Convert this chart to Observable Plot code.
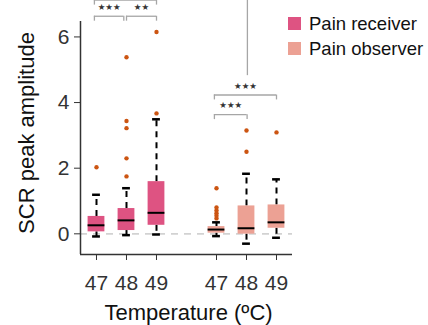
<!DOCTYPE html>
<html>
<head>
<meta charset="utf-8">
<script src="https://cdn.jsdelivr.net/npm/d3@7"></script>
<script src="https://cdn.jsdelivr.net/npm/@observablehq/plot@0.6"></script>
<style>
  html, body { margin: 0; padding: 0; background: white; }
  #wrap { position: relative; width: 428px; height: 325px; overflow: hidden; }
  #legend { position: absolute; left: 288px; top: 11px; font-family: 'Liberation Sans', Arial, sans-serif; font-size: 18.5px; color: #111; }
  .item { display: flex; align-items: center; height: 25px; }
  .sw { width: 13px; height: 13px; margin-right: 8px; }
</style>
</head>
<body>
<div id="wrap"><div id="legend"></div></div>
<script>
// ---- data ----
const groups = ["Pain receiver", "Pain observer"];
const groupColors = ["#de5382", "#eca194"];
const positions = [1, 2, 3, 5, 6, 7];
const tempLabels = ["47", "48", "49", "47", "48", "49"];
const boxGroup = ["Pain receiver", "Pain receiver", "Pain receiver", "Pain observer", "Pain observer", "Pain observer"];
const whiskerLow  = [-0.08, -0.04, -0.02, -0.07, -0.30, -0.12];
const q1          = [ 0.06,  0.10,  0.26,  0.02, -0.01,  0.17];
const median      = [ 0.26,  0.41,  0.64,  0.13,  0.17,  0.35];
const q3          = [ 0.53,  0.77,  1.59,  0.22,  0.85,  0.88];
const whiskerHigh = [ 1.19,  1.39,  3.49,  0.35,  1.83,  1.66];
const outlierValues = [
  [2.03],
  [1.75, 2.30, 3.22, 3.44, 5.38],
  [3.67, 6.15],
  [0.47, 0.55, 0.63, 0.71, 0.80, 1.39],
  [2.50, 3.15],
  [3.09]
];
const bracketX1 = [0.93, 2.0, 0.93, 4.93, 4.93];
const bracketX2 = [1.91, 3.0, 3.0, 7.0, 6.02];
const bracketY  = [6.63, 6.63, 7.12, 4.23, 3.63];
const bracketLabels = ["***", "**", "", "***", "***"];
const longLineX = [6.03];
const longLineY = [[4.82, 7.3]];
const yTicks = [0, 2, 4, 6];
const xDomain = [0.4667, 7.5333];
const yDomain = [-0.63, 6.47];

// ---- build tables ----
const boxes = positions.map((p, i) => ({
  pos: p, group: boxGroup[i], lo: whiskerLow[i], q1: q1[i], med: median[i], q3: q3[i], hi: whiskerHigh[i]
}));
const outliers = outlierValues.flatMap((vals, i) => vals.map(v => ({pos: positions[i], value: v})));
const brackets = bracketX1.map((x1, i) => ({x1, x2: bracketX2[i], y: bracketY[i], label: bracketLabels[i]}));
const legs = brackets.flatMap(b => [{x: b.x1, y1: b.y - 0.15, y2: b.y}, {x: b.x2, y1: b.y - 0.15, y2: b.y}]);
const longLines = longLineX.map((x, i) => ({x, y1: longLineY[i][0], y2: longLineY[i][1]}));

const hw = 0.28, cw = 0.13;
const font = "'Liberation Sans', Arial, sans-serif";

const chart = Plot.plot({
  width: 428, height: 325,
  marginLeft: 80, marginRight: 136, marginTop: 21, marginBottom: 71,
  x: {domain: xDomain},
  y: {domain: yDomain},
  color: {domain: groups, range: groupColors},
  style: {fontFamily: font, background: "white", color: "#222", overflow: "visible"},
  marks: [
    Plot.ruleY([0], {stroke: "#d2d2d2", strokeWidth: 1.6, strokeDasharray: "7,6"}),
    Plot.ruleX(boxes, {x: "pos", y1: "q3", y2: "hi", stroke: "black", strokeWidth: 2, strokeDasharray: "6,5"}),
    Plot.ruleX(boxes, {x: "pos", y1: "q1", y2: "lo", stroke: "black", strokeWidth: 2, strokeDasharray: "6,5"}),
    Plot.ruleY(boxes, {y: "hi", x1: d => d.pos - cw, x2: d => d.pos + cw, stroke: "black", strokeWidth: 2.5}),
    Plot.ruleY(boxes, {y: "lo", x1: d => d.pos - cw, x2: d => d.pos + cw, stroke: "black", strokeWidth: 2.5}),
    Plot.rect(boxes, {x1: d => d.pos - hw, x2: d => d.pos + hw, y1: "q1", y2: "q3", fill: "group"}),
    Plot.ruleY(boxes, {y: "med", x1: d => d.pos - hw, x2: d => d.pos + hw, stroke: "black", strokeWidth: 2}),
    Plot.dot(outliers, {x: "pos", y: "value", r: 2.2, fill: "#cc5512"}),
    Plot.ruleY(brackets, {y: "y", x1: "x1", x2: "x2", stroke: "#a6a6a6", strokeWidth: 1.3}),
    Plot.ruleX(legs, {x: "x", y1: "y1", y2: "y2", stroke: "#a6a6a6", strokeWidth: 1.3}),
    Plot.ruleX(longLines, {x: "x", y1: "y1", y2: "y2", stroke: "#a6a6a6", strokeWidth: 1.3}),
    Plot.text(brackets, {x: d => (d.x1 + d.x2) / 2, y: d => d.y + 0.28, text: "label", fontSize: 8.5, fill: "#333", fontFamily: "DejaVu Sans"}),
    Plot.ruleX([xDomain[0]], {stroke: "#333", strokeWidth: 1.5}),
    Plot.ruleY([yDomain[0]], {stroke: "#333", strokeWidth: 1.5}),
    Plot.axisY({ticks: yTicks, tickSize: 6, tickPadding: 5, fontSize: 21, color: "#333", label: null}),
    Plot.axisX({ticks: positions, tickFormat: (d) => tempLabels[positions.indexOf(d)], tickSize: 6, tickPadding: 15, fontSize: 21, color: "#333", label: null}),
    Plot.text(["SCR peak amplitude"], {frameAnchor: "left", textAnchor: "middle", lineAnchor: "middle", rotate: -90, dx: -54, dy: -5, fontSize: 22, fill: "#111"}),
    Plot.text(["Temperature (ºC)"], {frameAnchor: "bottom", textAnchor: "middle", lineAnchor: "bottom", dx: 2, dy: 65, fontSize: 22, fill: "#111"})
  ]
});
// replace star text with star glyphs
chart.querySelectorAll("text").forEach(t => {
  if (/^\*+$/.test(t.textContent)) t.textContent = t.textContent.replace(/\*/g, "★");
});
const wrap = document.getElementById("wrap");
wrap.insertBefore(chart, wrap.firstChild);

const legend = document.getElementById("legend");
groups.forEach((g, i) => {
  const item = document.createElement("div");
  item.className = "item";
  const sw = document.createElement("div");
  sw.className = "sw";
  sw.style.background = groupColors[i];
  const lab = document.createElement("span");
  lab.textContent = g;
  item.appendChild(sw); item.appendChild(lab);
  legend.appendChild(item);
});
</script>
</body>
</html>
